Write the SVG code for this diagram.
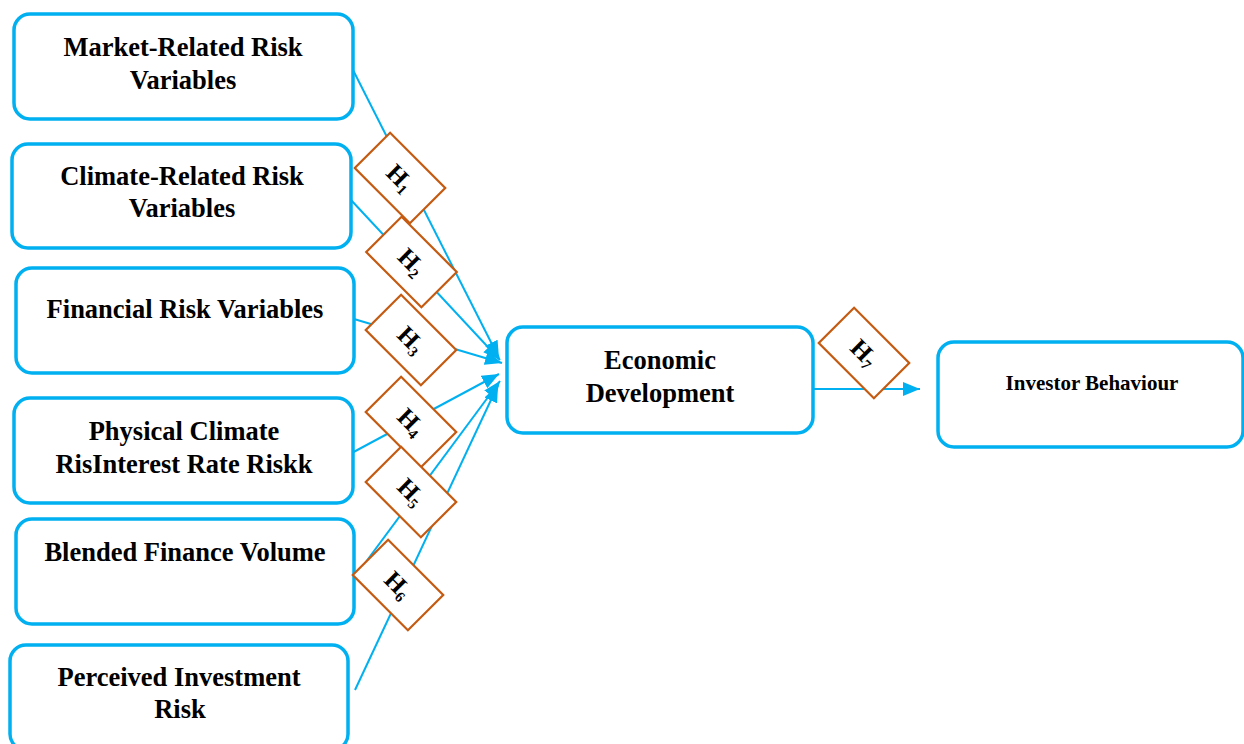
<svg xmlns="http://www.w3.org/2000/svg" width="1244" height="744" viewBox="0 0 1244 744">
<defs>
<style>
.box{fill:#fff;stroke:#00B0F0;stroke-width:3.5}
.lbl{font-family:"Liberation Serif","Times New Roman",serif;font-weight:bold;font-size:26.5px;fill:#000;text-anchor:middle}
.conn{stroke:#00B0F0;stroke-width:2;fill:none}
.dia{fill:#fff;stroke:#C55A11;stroke-width:2.2}
.h{font-family:"Liberation Serif","Times New Roman",serif;font-weight:bold;font-size:25px;fill:#000;text-anchor:middle}
.sub{font-size:15px}
</style>
<marker id="arr" markerWidth="18" markerHeight="14" refX="17" refY="7" orient="auto" markerUnits="userSpaceOnUse">
<path d="M0,0 L17,7 L0,14 z" fill="#00B0F0"/>
</marker>
</defs>
<rect width="1244" height="744" fill="#fff"/>
<g id="connectors">
<line class="conn" x1="353" y1="70" x2="499" y2="358" marker-end="url(#arr)"/>
<line class="conn" x1="351" y1="200" x2="500" y2="360" marker-end="url(#arr)"/>
<line class="conn" x1="354" y1="319" x2="502" y2="363" marker-end="url(#arr)"/>
<line class="conn" x1="348" y1="455" x2="499" y2="374" marker-end="url(#arr)"/>
<line class="conn" x1="354" y1="578" x2="500" y2="381" marker-end="url(#arr)"/>
<line class="conn" x1="355" y1="690" x2="498" y2="385" marker-end="url(#arr)"/>
<line class="conn" x1="813" y1="389" x2="920" y2="389" marker-end="url(#arr)"/>
</g>
<g id="market">
<rect class="box" x="14" y="14" width="339" height="105" rx="16"/>
<text class="lbl" x="183" y="56">Market-Related Risk</text>
<text class="lbl" x="183" y="89">Variables</text>
</g>
<g id="climate">
<rect class="box" x="12" y="144" width="339" height="104" rx="16"/>
<text class="lbl" x="182" y="185">Climate-Related Risk</text>
<text class="lbl" x="182" y="217">Variables</text>
</g>
<g id="financial">
<rect class="box" x="16" y="268" width="338" height="105" rx="16"/>
<text class="lbl" x="185" y="318">Financial Risk Variables</text>
</g>
<g id="physical">
<rect class="box" x="14" y="398" width="339" height="105" rx="16"/>
<text class="lbl" x="184" y="440">Physical Climate</text>
<text class="lbl" x="184" y="473">RisInterest Rate Riskk</text>
</g>
<g id="blended">
<rect class="box" x="16" y="519" width="338" height="105" rx="16"/>
<text class="lbl" x="185" y="561">Blended Finance Volume</text>
</g>
<g id="perceived">
<rect class="box" x="10" y="645" width="338" height="105" rx="16"/>
<text class="lbl" x="179" y="686">Perceived Investment</text>
<text class="lbl" x="180" y="718">Risk</text>
</g>
<g id="economic">
<rect class="box" x="507" y="327" width="306" height="106" rx="16"/>
<text class="lbl" x="660" y="369">Economic</text>
<text class="lbl" x="660" y="402">Development</text>
</g>
<g id="investor">
<rect class="box" x="938" y="342" width="305" height="105" rx="16"/>
<text class="lbl" x="1092" y="390" style="font-size:21px">Investor Behaviour</text>
</g>
<g id="h1" transform="translate(400,178) rotate(45)">
<rect class="dia" x="-39" y="-25" width="78" height="50"/>
<text class="h" x="0" y="8">H<tspan class="sub" dy="4">1</tspan></text>
</g>
<g id="h2" transform="translate(411.5,262) rotate(45)">
<rect class="dia" x="-39" y="-25" width="78" height="50"/>
<text class="h" x="0" y="8">H<tspan class="sub" dy="4">2</tspan></text>
</g>
<g id="h3" transform="translate(411,340) rotate(45)">
<rect class="dia" x="-39" y="-25" width="78" height="50"/>
<text class="h" x="0" y="8">H<tspan class="sub" dy="4">3</tspan></text>
</g>
<g id="h4" transform="translate(411,422) rotate(45)">
<rect class="dia" x="-39" y="-25" width="78" height="50"/>
<text class="h" x="0" y="8">H<tspan class="sub" dy="4">4</tspan></text>
</g>
<g id="h5" transform="translate(411,492) rotate(45)">
<rect class="dia" x="-39" y="-25" width="78" height="50"/>
<text class="h" x="0" y="8">H<tspan class="sub" dy="4">5</tspan></text>
</g>
<g id="h6" transform="translate(398,585) rotate(45)">
<rect class="dia" x="-39" y="-25" width="78" height="50"/>
<text class="h" x="0" y="8">H<tspan class="sub" dy="4">6</tspan></text>
</g>
<g id="h7" transform="translate(864,353) rotate(45)">
<rect class="dia" x="-39" y="-25" width="78" height="50"/>
<text class="h" x="0" y="8">H<tspan class="sub" dy="4">7</tspan></text>
</g>
</svg>
